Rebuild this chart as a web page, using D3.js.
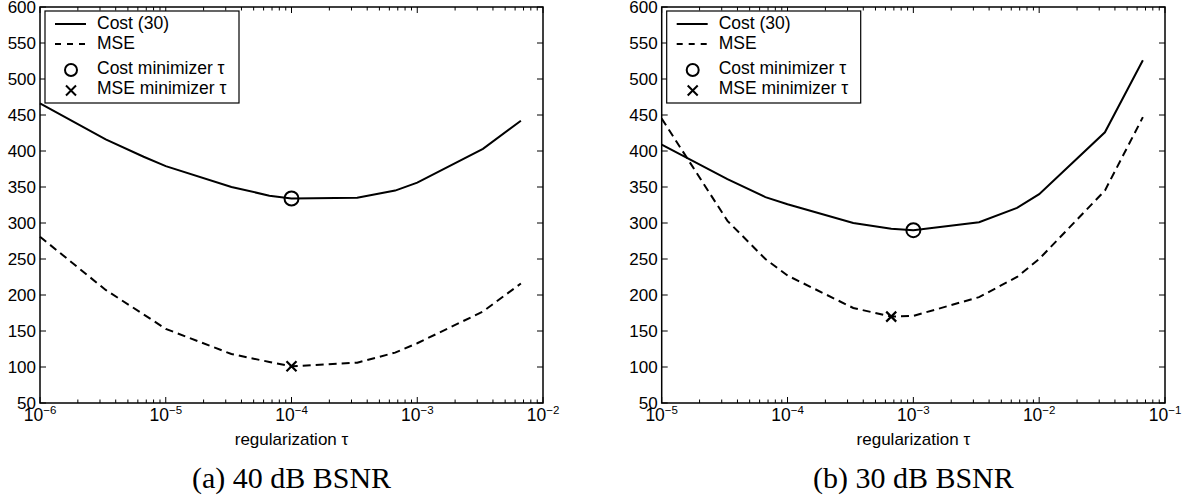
<!DOCTYPE html>
<html>
<head>
<meta charset="utf-8">
<script src="https://cdn.jsdelivr.net/npm/d3@7"></script>
<style>
  body { margin: 0; background: #fff; }
  svg { display: block; }
  text { font-family: Arial, "Liberation Sans", Helvetica, sans-serif; fill: #000; }
  .caption { font-family: "Times New Roman", "Liberation Serif", serif; }
</style>
</head>
<body>
<svg id="chart" width="1190" height="501"></svg>
<script>
// (a) 40 dB BSNR
const tauA  = [1e-6, 3.33e-6, 6.67e-6, 1e-5, 3.33e-5, 6.67e-5, 1e-4, 3.33e-4, 6.67e-4, 1e-3, 3.33e-3, 6.67e-3];
const costA = [466, 416, 392, 379, 350, 338, 334, 335, 345, 356, 403, 442];
const mseA  = [281, 207, 173, 153, 118, 107, 101, 106, 120, 133, 177, 216];
const costMinA = [1e-4, 334];
const mseMinA  = [1e-4, 101];

// (b) 30 dB BSNR
const tauB  = [1e-5, 3.33e-5, 6.67e-5, 1e-4, 3.33e-4, 6.67e-4, 1e-3, 3.33e-3, 6.67e-3, 1e-2, 3.33e-2, 6.67e-2];
const costB = [409, 361, 336, 326, 300, 292, 290, 301, 321, 340, 426, 526];
const mseB  = [445, 303, 250, 227, 182, 170, 171, 197, 225, 250, 345, 447];
const costMinB = [1e-3, 290];
const mseMinB  = [6.67e-4, 170];

const yTicks = d3.range(50, 601, 50);
const legendLabels = ['Cost (30)', 'MSE', 'Cost minimizer \u03c4', 'MSE minimizer \u03c4'];
const xLabel = 'regularization \u03c4';

const svg = d3.select('#chart');

function panel (opts) {
	const { left, right, domain, tau, cost, mse, costMin, mseMin, caption } = opts;
	const top = 7, bottom = 403;

	const x = d3.scaleLog().domain(domain).range([left, right]);
	const y = d3.scaleLinear().domain([50, 600]).range([bottom, top]);

	const g = svg.append('g');

	// minor + major ticks on the log axis, drawn inward on bottom and top
	const xt = x.ticks();
	const isMajor = d => Math.abs(Math.log10(d) - Math.round(Math.log10(d))) < 1e-9;
	g.selectAll('line.xtick-b').data(xt).join('line')
		.attr('x1', d => x(d)).attr('x2', d => x(d))
		.attr('y1', bottom).attr('y2', d => bottom - (isMajor(d) ? 6 : 3.5))
		.attr('stroke', '#000').attr('stroke-width', 1);
	g.selectAll('line.xtick-t').data(xt).join('line')
		.attr('x1', d => x(d)).attr('x2', d => x(d))
		.attr('y1', top).attr('y2', d => top + (isMajor(d) ? 6 : 3.5))
		.attr('stroke', '#000').attr('stroke-width', 1);

	g.selectAll('line.ytick').data(yTicks).join('line')
		.attr('x1', left).attr('x2', left + 6)
		.attr('y1', d => y(d)).attr('y2', d => y(d))
		.attr('stroke', '#000').attr('stroke-width', 1);
	g.selectAll('line.ytick-r').data(yTicks).join('line')
		.attr('x1', right).attr('x2', right - 6)
		.attr('y1', d => y(d)).attr('y2', d => y(d))
		.attr('stroke', '#000').attr('stroke-width', 1);

	// box
	g.append('rect')
		.attr('x', left).attr('y', top)
		.attr('width', right - left).attr('height', bottom - top)
		.attr('fill', 'none').attr('stroke', '#000').attr('stroke-width', 1.5);

	// y labels
	g.selectAll('text.ylab').data(yTicks).join('text')
		.attr('x', left - 4).attr('y', d => y(d))
		.attr('dy', '0.36em')
		.attr('text-anchor', 'end')
		.style('font-size', '17px')
		.text(d => d);

	// x labels 10^k
	const xl = g.selectAll('text.xlab').data(xt.filter(isMajor)).join('text')
		.attr('x', d => x(d)).attr('y', bottom + 18)
		.attr('text-anchor', 'middle')
		.style('font-size', '17.5px');
	xl.append('tspan').text('10');
	xl.append('tspan')
		.attr('dy', -7)
		.style('font-size', '11.5px')
		.text(d => '\u2212' + Math.abs(Math.round(Math.log10(d))));

	g.append('text')
		.attr('x', (left + right) / 2).attr('y', bottom + 42)
		.attr('text-anchor', 'middle')
		.style('font-size', '17px')
		.text(xLabel);

	const line = d3.line().x(d => x(d[0])).y(d => y(d[1]));
	g.append('path')
		.attr('d', line(d3.zip(tau, cost)))
		.attr('fill', 'none').attr('stroke', '#000').attr('stroke-width', 2);
	g.append('path')
		.attr('d', line(d3.zip(tau, mse)))
		.attr('fill', 'none').attr('stroke', '#000').attr('stroke-width', 2)
		.attr('stroke-dasharray', '8,5');

	g.append('circle')
		.attr('cx', x(costMin[0])).attr('cy', y(costMin[1])).attr('r', 7)
		.attr('fill', 'none').attr('stroke', '#000').attr('stroke-width', 2);
	const s = 5;
	g.append('path')
		.attr('d', `M${x(mseMin[0]) - s},${y(mseMin[1]) - s}L${x(mseMin[0]) + s},${y(mseMin[1]) + s}M${x(mseMin[0]) - s},${y(mseMin[1]) + s}L${x(mseMin[0]) + s},${y(mseMin[1]) - s}`)
		.attr('stroke', '#000').attr('stroke-width', 2.2);

	// legend
	const lg = g.append('g').attr('transform', `translate(${left + 5},${top + 4})`);
	lg.append('rect')
		.attr('width', 194).attr('height', 92)
		.attr('fill', '#fff').attr('stroke', '#000').attr('stroke-width', 1.2);
	const rowY = [18, 38, 63, 83];
	lg.selectAll('text').data(legendLabels).join('text')
		.attr('x', 52).attr('y', (d, i) => rowY[i])
		.style('font-size', '17.5px')
		.text(d => d);
	lg.append('line')
		.attr('x1', 10).attr('x2', 41).attr('y1', 13).attr('y2', 13)
		.attr('stroke', '#000').attr('stroke-width', 2);
	lg.append('line')
		.attr('x1', 10).attr('x2', 41).attr('y1', 33).attr('y2', 33)
		.attr('stroke', '#000').attr('stroke-width', 2)
		.attr('stroke-dasharray', '6,6');
	lg.append('circle')
		.attr('cx', 26).attr('cy', 59).attr('r', 6)
		.attr('fill', 'none').attr('stroke', '#000').attr('stroke-width', 2);
	lg.append('path')
		.attr('d', `M${26 - 5},${79.5 - 5}L${26 + 5},${79.5 + 5}M${26 - 5},${79.5 + 5}L${26 + 5},${79.5 - 5}`)
		.attr('stroke', '#000').attr('stroke-width', 2);

	// caption
	svg.append('text')
		.attr('class', 'caption')
		.attr('x', (left + right) / 2).attr('y', 488)
		.attr('text-anchor', 'middle')
		.style('font-size', '30px')
		.text(caption);
}

panel({ left: 40, right: 543, domain: [1e-6, 1e-2], tau: tauA, cost: costA, mse: mseA,
	costMin: costMinA, mseMin: mseMinA, caption: '(a) 40 dB BSNR' });
panel({ left: 661.7, right: 1165, domain: [1e-5, 1e-1], tau: tauB, cost: costB, mse: mseB,
	costMin: costMinB, mseMin: mseMinB, caption: '(b) 30 dB BSNR' });
</script>
</body>
</html>
